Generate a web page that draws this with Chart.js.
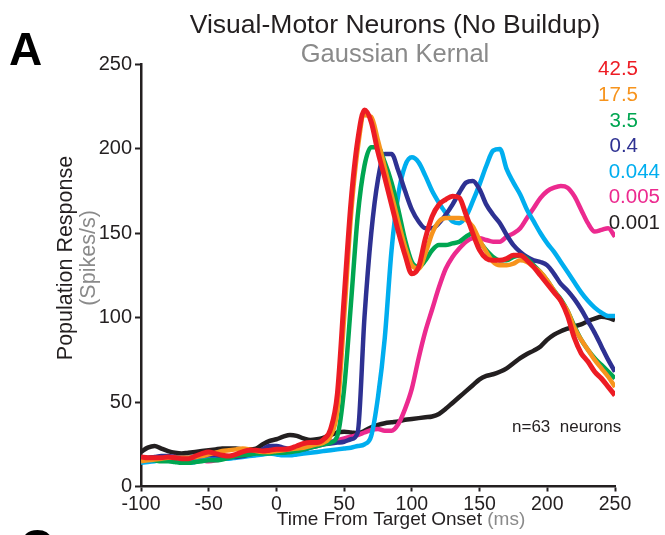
<!DOCTYPE html>
<html>
<head>
<meta charset="utf-8">
<script src="https://cdn.jsdelivr.net/npm/chart.js@4"></script>
<style>
  body { margin: 0; background: #fff; }
  #chart { display: block; }
</style>
</head>
<body>
<canvas id="chart" width="665" height="535"></canvas>
<script>
// time axis (ms from target onset), one sample every 5 ms
var times = [];
for (var t = -100; t <= 250; t += 5) times.push(t);

var xTicks = [-100, -50, 0, 50, 100, 150, 200, 250];
var yTicks = [0, 50, 100, 150, 200, 250];

var labels = ["42.5", "17.5", "3.5", "0.4", "0.044", "0.005", "0.001"];
var colors = ["#ed1c24", "#f7941d", "#00a651", "#2e3192", "#00aeef", "#ec2a8f", "#231f20"];

var red = [17.5,17,17,17,17.5,17,16.5,16.5,18,19.5,
  20.5,19.5,18.5,18,19,20.5,21.5,21.5,21,21.5,
  22,22,22.5,24,25.5,26,26,28,34,55,
  112,168,205,223,216,198,183,167,151,137,
  126,130,147,160,167,170,172,171,161,150,
  140,135,134,134,135,137,137,134,130,125,
  120,115,110,101,88,79,74,68,64,59,
  54];
var orange = [15,15.5,16,16.5,17,17,17,17,17.5,18,
  19,20,21,21.5,22,22.5,22,21,20.5,20.5,
  21,21.5,22,22.5,23,24,25,26,30,45,
  100,160,200,220,219,205,189,173,157,142,
  131,129,138,150,157,159,159,159,158,154,
  146,139,133,131,131,132,134,133,130,127,
  122,116,110,104,94,87,81,75,70,65,
  59];
var green = [16,16,15.5,15,15,14.5,14,14,14.5,15,
  15.5,15.5,16,17,18,18.5,19,19.5,19.5,19.5,
  20,20,20.5,21,22,23,24,25,26,30,
  58,108,160,190,201,201,192,180,164,146,
  133,130,134,140,143,143,144,145,148,150,
  145,140,136,134,134,136,137,135,131,127,
  122,116,111,104,95,87,81,76,72,68,
  64];
var navy = [17,17,17.5,18,18,17.5,17,17,17.5,18,
  18.5,18.5,18,17.5,17.5,18,19,20,22,24,
  24,23,22,21.5,22,23,24,25,25.5,26,
  26.5,28,32,100,150,182,197,197,187,175,
  164,157,153,153,156,161,167,174,180,181,
  176,167,161,156,149,143,139,136,134,133,
  131,126,120,116,111,105,98,91,83,75,
  68];
var cyan = [14,14.5,15,15.5,15.5,15,14.5,14,14.5,15.5,
  16,16.5,16.5,16.5,17,17.5,18,18.5,19,19.5,
  19,18.5,18.5,19,19.5,20,20.5,21,21.5,22,
  22.5,23,24,25,30,53,88,140,173,190,
  195,192,184,175,168,162,157,156,160,169,
  179,190,199,200,188,180,173,164,157,150,
  144,139,133,127,121,115,110,106,103,101,
  101];
var magenta = [16,16.5,17,17.5,17.5,17.5,17,16.5,16,15.5,
  15,15.5,16.5,17.5,18,18.5,19,19.5,20,20.5,
  21,21.5,22,22.5,23,23.5,24.5,25.5,26.5,27.5,
  28.5,29.5,30.5,32,33.5,34,33,33,37,46,
  58,76,92,105,118,129,136,141,145,147,
  147,146,145,145,148,150,153,159,165,171,
  175,177,178,177,172,164,156,151,152,153,
  148];
var black = [20.5,23,24,22.5,21,20,19.5,20,20.5,21,
  21.5,22,22.5,22.5,22.5,22,22,22.5,25,27,
  28,29.5,30.5,30,28.5,27.5,28,29,30.5,32,
  32.5,32,31.5,33,35,36.5,37.5,38,38.5,39.5,
  40,40.5,41,41.5,43,46,49.5,53,56.5,60,
  63.5,65.5,66.5,68,70,73,76,78.5,80.5,83,
  87,90,92,93.5,95,96,98,99.5,100.5,100,
  98.5];

var series = [red, orange, green, navy, cyan, magenta, black];

var FONT = "'Liberation Sans', Arial, Helvetica, sans-serif";

var datasets = [];
for (var s = 0; s < series.length; s++) {
  var pts = [];
  for (var i = 0; i < times.length; i++) {
    pts.push({ x: times[i], y: series[s][i] });
  }
  datasets.push({
    label: labels[s],
    data: pts,
    borderColor: colors[s],
    borderWidth: s == 0 ? 5 : 4.5,
    pointRadius: 0,
    fill: false,
    cubicInterpolationMode: "monotone"
  });
}

// titles, legend text and panel letters
var textPlugin = {
  id: "texts",
  afterDraw: function (chart) {
    var ctx = chart.ctx;
    ctx.save();

    ctx.fillStyle = "#000";
    ctx.font = "bold 46px " + FONT;
    ctx.textAlign = "left";
    ctx.textBaseline = "alphabetic";
    ctx.fillText("A", 9, 65);
    ctx.fillText("C", 20, 562);

    ctx.textAlign = "center";
    ctx.fillStyle = "#231f20";
    ctx.font = "26.5px " + FONT;
    ctx.fillText("Visual-Motor Neurons (No Buildup)", 395, 33);
    ctx.fillStyle = "#8a8a8a";
    ctx.font = "25.5px " + FONT;
    ctx.fillText("Gaussian Kernal", 395, 62);

    // legend values
    ctx.font = "20.5px " + FONT;
    ctx.textAlign = "right";
    var ly = [75, 101, 126.5, 152, 177.5, 203, 228.5];
    for (var k = 0; k < labels.length; k++) {
      ctx.fillStyle = colors[k];
      ctx.fillText(labels[k], k < 4 ? 638 : 660, ly[k]);
    }

    ctx.fillStyle = "#231f20";
    ctx.textAlign = "left";
    ctx.font = "17px " + FONT;
    ctx.fillText("n=63  neurons", 512, 432);

    // x axis title with grey unit
    ctx.font = "19px " + FONT;
    var a = "Time From Target Onset ";
    var b = "(ms)";
    var wa = ctx.measureText(a).width;
    var wb = ctx.measureText(b).width;
    var x0 = 401 - (wa + wb) / 2;
    ctx.fillStyle = "#231f20";
    ctx.fillText(a, x0, 525);
    ctx.fillStyle = "#8a8a8a";
    ctx.fillText(b, x0 + wa, 525);

    // y axis title
    ctx.translate(0, 0);
    ctx.save();
    ctx.translate(72, 258);
    ctx.rotate(-Math.PI / 2);
    ctx.textAlign = "center";
    ctx.font = "21.5px " + FONT;
    ctx.fillStyle = "#231f20";
    ctx.fillText("Population Response", 0, 0);
    ctx.restore();
    ctx.save();
    ctx.translate(95, 258);
    ctx.rotate(-Math.PI / 2);
    ctx.textAlign = "center";
    ctx.font = "21.5px " + FONT;
    ctx.fillStyle = "#8a8a8a";
    ctx.fillText("(Spikes/s)", 0, 0);
    ctx.restore();

    ctx.restore();
  }
};

var c = document.getElementById("chart").getContext("2d");
var chart = new Chart(c, {
  type: "line",
  data: { datasets: datasets },
  plugins: [textPlugin],
  options: {
    responsive: false,
    animation: false,
    layout: { padding: { top: 64.5, right: 50, bottom: 0, left: 0 } },
    plugins: { legend: { display: false }, tooltip: { enabled: false } },
    scales: {
      x: {
        type: "linear",
        min: -100,
        max: 250,
        afterBuildTicks: function (scale) {
          scale.ticks = xTicks.map(function (v) { return { value: v }; });
        },
        afterFit: function (scale) { scale.height = 48.5; },
        grid: { drawOnChartArea: false, tickLength: 5, tickWidth: 2, tickColor: "#231f20" },
        border: { color: "#231f20", width: 2.5 },
        ticks: { color: "#231f20", font: { family: FONT, size: 19.5 }, padding: 1, maxRotation: 0 }
      },
      y: {
        min: 0,
        max: 250,
        afterBuildTicks: function (scale) {
          scale.ticks = yTicks.map(function (v) { return { value: v }; });
        },
        afterFit: function (scale) { scale.width = 141; },
        grid: { drawOnChartArea: false, tickLength: 6, tickWidth: 2, tickColor: "#231f20" },
        border: { color: "#231f20", width: 2.5 },
        ticks: { color: "#231f20", font: { family: FONT, size: 20 }, padding: 3 }
      }
    }
  }
});
</script>
</body>
</html>
